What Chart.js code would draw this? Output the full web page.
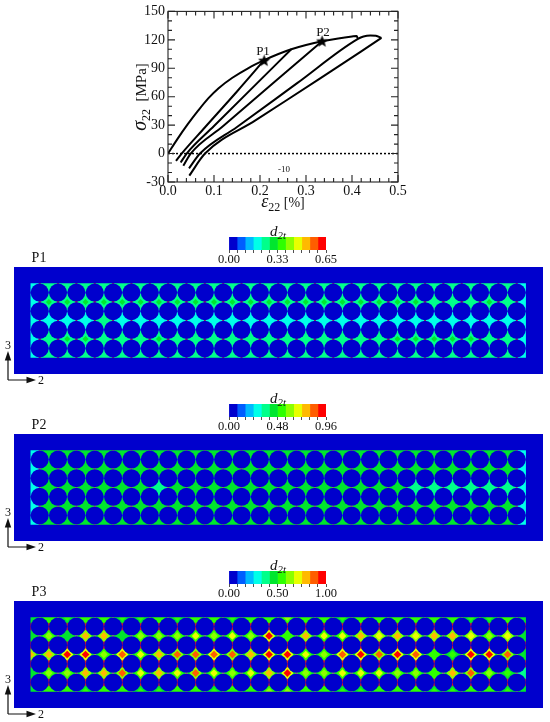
<!DOCTYPE html>
<html><head><meta charset="utf-8">
<script src="https://cdn.jsdelivr.net/npm/chart.js@4/dist/chart.umd.js"></script>
<style>
html,body{margin:0;padding:0;background:#fff;width:550px;height:722px;overflow:hidden}
body{position:relative;font-family:"Liberation Serif",serif;color:#111}
canvas{position:absolute}
.t{position:absolute;transform:translate(-50%,-50%);white-space:nowrap;line-height:1}
sub{font-size:.72em;vertical-align:-.3em;line-height:0}
svg{position:absolute;left:0;top:0}
</style></head><body>
<canvas id="curve" width="550" height="215" style="left:0;top:0"></canvas>
<canvas id="bar1" width="160" height="36" style="left:200px;top:230px"></canvas>
<canvas id="bar2" width="160" height="36" style="left:200px;top:397px"></canvas>
<canvas id="bar3" width="160" height="36" style="left:200px;top:564px"></canvas>
<canvas id="map1" width="529" height="107" style="left:14px;top:267px"></canvas>
<canvas id="map2" width="529" height="107" style="left:14px;top:434px"></canvas>
<canvas id="map3" width="529" height="107" style="left:14px;top:601px"></canvas>
<svg width="550" height="722" id="triads"></svg>
<div class="t" style="left:139px;top:97px;font-size:15px;transform:translate(-50%,-50%) rotate(-90deg)"><i style="font-size:20px">σ</i><sub style="font-size:12px">22</sub>&nbsp; [MPa]</div>
<div class="t" style="left:283px;top:201px;font-size:14px"><i style="font-size:18px">ε</i><sub style="font-size:12px">22</sub> [%]</div>
<div class="t" style="left:263px;top:50px;font-size:13px">P1</div>
<div class="t" style="left:323px;top:31px;font-size:13px">P2</div>
<div class="t" style="left:284px;top:169px;font-size:9px">-10</div>
<div class="t" style="left:39px;top:258px;font-size:14px">P1</div>
<div class="t" style="left:39px;top:425px;font-size:14px">P2</div>
<div class="t" style="left:39px;top:592px;font-size:14px">P3</div>
<div class="t" style="left:278px;top:231px;font-size:15px"><i>d</i><sub><i>2t</i></sub></div>
<div class="t" style="left:278px;top:398px;font-size:15px"><i>d</i><sub><i>2t</i></sub></div>
<div class="t" style="left:278px;top:565px;font-size:15px"><i>d</i><sub><i>2t</i></sub></div>
<div class="t" style="left:8px;top:345px;font-size:12px">3</div>
<div class="t" style="left:41px;top:380px;font-size:12px">2</div>
<div class="t" style="left:8px;top:512px;font-size:12px">3</div>
<div class="t" style="left:41px;top:547px;font-size:12px">2</div>
<div class="t" style="left:8px;top:679px;font-size:12px">3</div>
<div class="t" style="left:41px;top:714px;font-size:12px">2</div>
<script>
// ---------- stress-strain curves [strain %, stress MPa]
const envelope = [[0,0],[.02,15],[.043,31],[.065,45],[.087,58],[.11,69],[.14,80],[.174,90],[.209,98.5],[.24,105],[.268,110],[.30,114.5],[.335,118.5],[.37,121.5],[.40,123.5],[.41,124],[.413,121]];
const loop1 = [[.0174,-7.7],[.0297,0],[.08,27.5],[.15,65.5],[.209,98.5]];
const loop2 = [[.0276,-9.4],[.0406,0],[.10,29],[.19,72.5],[.268,110]];
const loop3 = [[.0333,-12.9],[.0493,0],[.12,29],[.23,75],[.335,118.5]];
const loop4 = [[.0457,-15.6],[.0696,0],[.15,28],[.28,74],[.413,121],[.425,123.5],[.44,124.5],[.452,124.2],[.464,122]];
const loop5 = [[.0463,-23.3],[.0804,0],[.19,35],[.33,79],[.464,122]];
const zeroLine = [[0,0],[.5,0]];
const starPoints = [[.209,98],[.335,118.5]];
const xRange = [0,.5], yRange = [-30,150];
const xMajorTicks = [0,.1,.2,.3,.4,.5];
const xMinorTicks = [.02,.04,.06,.08,.12,.14,.16,.18,.22,.24,.26,.28,.32,.34,.36,.38,.42,.44,.46,.48];
const yMajorTicks = [-30,0,30,60,90,120,150];
const yMinorTicks = [-20,-10,10,20,40,50,70,80,100,110,130,140];

// ---------- colour scale
const levelColors = ['#0000cd','#005dff','#00b9ff','#00ffe8','#00ff8b','#00e62e','#2eff00','#8bff00','#e8ff00','#ffb900','#ff5d00','#ff0000'];
const barMax = [.65,.96,1.0];
const barLabels = [['0.00','0.33','0.65'],['0.00','0.48','0.96'],['0.00','0.50','1.00']];

// ---------- damage read at the junctions between fibres (top row first; 28 per row)
const p1Rows = [
 [.20,.25,.25,.25,.25,.25,.25,.25,.25,.25,.25,.25,.25,.25,.25,.25,.25,.25,.25,.25,.25,.25,.25,.25,.25,.25,.25,.20],
 [.18,.29,.29,.29,.29,.29,.29,.29,.29,.29,.29,.29,.29,.29,.29,.29,.29,.29,.29,.28,.28,.28,.25,.25,.25,.28,.25,.18],
 [.18,.21,.21,.21,.24,.21,.21,.21,.21,.21,.21,.21,.21,.21,.21,.21,.21,.21,.21,.21,.21,.21,.21,.21,.21,.21,.21,.18],
 [.18,.26,.29,.29,.26,.26,.26,.29,.26,.26,.26,.26,.26,.26,.26,.26,.26,.26,.26,.26,.28,.28,.28,.28,.28,.26,.26,.18],
 [.20,.25,.25,.25,.25,.25,.25,.25,.25,.25,.25,.25,.25,.25,.25,.25,.25,.25,.25,.25,.25,.25,.25,.25,.25,.25,.25,.20]
];
const p2Rows = [
 [.30,.42,.42,.42,.42,.42,.42,.42,.42,.42,.42,.42,.42,.42,.42,.42,.42,.42,.42,.42,.42,.42,.42,.42,.42,.42,.42,.30],
 [.28,.44,.44,.44,.44,.44,.44,.44,.44,.44,.44,.44,.44,.44,.44,.44,.44,.44,.44,.44,.44,.44,.44,.44,.44,.44,.44,.28],
 [.28,.44,.44,.44,.44,.44,.44,.38,.44,.44,.44,.44,.44,.44,.44,.44,.44,.44,.44,.44,.44,.38,.38,.38,.38,.38,.38,.28],
 [.28,.44,.44,.44,.44,.44,.44,.44,.44,.44,.44,.44,.44,.44,.44,.44,.44,.44,.44,.44,.44,.44,.44,.44,.44,.44,.44,.28],
 [.30,.42,.42,.42,.42,.42,.42,.42,.42,.42,.42,.42,.42,.42,.42,.42,.42,.42,.42,.42,.42,.42,.42,.42,.42,.42,.42,.30]
];
const p3Rows = [
 [.42,.55,.5,.55,.55,.5,.5,.55,.5,.55,.55,.5,.55,.55,.6,.55,.55,.5,.55,.55,.55,.55,.55,.55,.5,.5,.55,.42],
 [.42,.62,.45,.82,.76,.45,.62,.62,.62,.7,.65,.7,.65,1.0,.55,.75,.7,.7,.78,.72,.75,.72,.82,.8,.72,.65,.72,.42],
 [.8,.78,.95,.95,.6,.9,.7,.8,.85,.85,.9,.88,.8,.98,.98,.7,.65,.9,.95,.88,.92,.9,.55,.5,.92,.92,.85,.45],
 [.45,.65,.65,.75,.8,.85,.7,.75,.7,.85,.7,.65,.7,.8,1.0,.65,.65,.7,.7,.68,.6,.65,.55,.8,.85,.65,.5,.4],
 [.42,.55,.55,.5,.55,.55,.5,.5,.55,.55,.5,.55,.55,.6,.6,.55,.55,.5,.5,.55,.55,.55,.5,.5,.55,.55,.5,.42]
];
const rimValues = [.24,.42,.45];
const fibreCols = 27, fibreRows = 4;

// ---------- styles
const SERIF = '"Liberation Serif", serif';
const gapStyles = [
 {h:'#d0103a', v:'#1a6fe0', base:'#1a6fe0', vOver:false, core:3, mid:5.2},
 {h:'#c88a40', v:'#1a78d8', base:'#1a78d8', vOver:false, core:3, mid:5.2},
 {h:'#d0c040', v:'#d01030', base:'#20a0a0', vOver:true, core:3.8, mid:6.2}
];
const matrixBlue = levelColors[0];
Chart.defaults.animation = false;
Chart.defaults.responsive = false;
Chart.defaults.font.family = SERIF;

// ---------- top chart
function pts(a){return a.map(p=>({x:p[0],y:p[1]}));}
const star = document.createElement('canvas'); star.width=13; star.height=13;
(function(){const c=star.getContext('2d');c.fillStyle='#000';c.beginPath();
 for(let i=0;i<10;i++){const r=i%2?2.7:6.4,a=-Math.PI/2+i*Math.PI/5;
  c[i?'lineTo':'moveTo'](6.5+r*Math.cos(a),6.8+r*Math.sin(a));}
 c.closePath();c.fill();})();
const curveLine = d=>({data:pts(d),showLine:true,borderColor:'#000',borderWidth:2,pointRadius:0,cubicInterpolationMode:'monotone',fill:false});
const framePlugin = {id:'frame',afterDraw(ch){
 const c=ch.ctx,a=ch.chartArea,X=ch.scales.x,Y=ch.scales.y;
 c.save();c.strokeStyle='#222';c.lineWidth=1.1;c.strokeRect(a.left,a.top,a.width,a.height);
 const tx=(v,l)=>{const p=X.getPixelForValue(v);c.beginPath();c.moveTo(p,a.bottom);c.lineTo(p,a.bottom-l);c.moveTo(p,a.top);c.lineTo(p,a.top+l);c.stroke();};
 const ty=(v,l)=>{const p=Y.getPixelForValue(v);c.beginPath();c.moveTo(a.left,p);c.lineTo(a.left+l,p);c.moveTo(a.right,p);c.lineTo(a.right-l,p);c.stroke();};
 xMajorTicks.forEach(v=>tx(v,7));xMinorTicks.forEach(v=>tx(v,4));
 yMajorTicks.forEach(v=>ty(v,7));yMinorTicks.forEach(v=>ty(v,4));
 c.restore();}};
new Chart(document.getElementById('curve'),{type:'scatter',
 data:{datasets:[
  {data:pts(starPoints),pointStyle:star,pointRadius:6,showLine:false},
  curveLine(envelope),curveLine(loop1),curveLine(loop2),curveLine(loop3),curveLine(loop4),curveLine(loop5),
  {data:pts(zeroLine),showLine:true,borderColor:'#000',borderWidth:1.5,borderDash:[2,2],pointRadius:0}
 ]},
 options:{layout:{autoPadding:false,padding:{left:128,right:152,top:9,bottom:3}},
  plugins:{legend:{display:false},tooltip:{enabled:false}},
  scales:{
   x:{type:'linear',min:xRange[0],max:xRange[1],grid:{display:false,drawTicks:false},border:{display:false},
      afterFit:s=>{s.height=30;},afterBuildTicks:s=>{s.ticks=xMajorTicks.map(v=>({value:v}));},
      ticks:{color:'#111',font:{size:14},padding:1,maxRotation:0,callback:v=>v.toFixed(1)}},
   y:{type:'linear',min:yRange[0],max:yRange[1],grid:{display:false,drawTicks:false},border:{display:false},
      afterFit:s=>{s.width=40;},afterBuildTicks:s=>{s.ticks=yMajorTicks.map(v=>({value:v}));},
      ticks:{color:'#111',font:{size:14},padding:3,callback:v=>String(v)}}
  }},plugins:[framePlugin]});

// ---------- colour bars
function colourBar(id,k){
 const max=barMax[k],n=levelColors.length,step=max/n;
 const labels=barLabels[k];
 new Chart(document.getElementById(id),{type:'bar',
  data:{labels:['d'],datasets:levelColors.map((col,i)=>({data:[[i*step,(i+1)*step]],backgroundColor:col,barPercentage:1,categoryPercentage:1,grouped:false,borderWidth:0}))},
  options:{indexAxis:'y',layout:{padding:{left:29,right:34,top:7,bottom:0}},
   plugins:{legend:{display:false},tooltip:{enabled:false}},
   scales:{
    y:{display:false},
    x:{type:'linear',min:0,max:max,border:{display:false},
       grid:{drawOnChartArea:false,drawTicks:true,tickLength:3,color:'#222',lineWidth:.8},
       afterFit:s=>{s.height=16;},
       afterBuildTicks:s=>{const t=[];for(let i=0;i<=n;i++)t.push({value:i*step});s.ticks=t;},
       ticks:{autoSkip:false,maxRotation:0,color:'#111',font:{size:12.5},padding:-1,
        callback:(v,i)=>i===0?labels[0]:i===6?labels[1]:i===12?labels[2]:''}}
   }}});
}
colourBar('bar1',0);colourBar('bar2',1);colourBar('bar3',2);

// ---------- damage maps
function colorOf(v,max){return levelColors[Math.min(11,Math.floor(v/max*12))];}
function damageMap(id,k,rows){
 const max=barMax[k],rim=rimValues[k],gs=gapStyles[k];
 const fibres=[],nodes=[],hLines=[],vLines=[];
 for(let r=0;r<fibreRows;r++)for(let c=0;c<fibreCols;c++)fibres.push({x:c+.5,y:r+.5});
 rows.forEach((row,i)=>row.forEach((v,c)=>nodes.push({x:c,y:fibreRows-i,v})));
 for(let r=0;r<=fibreRows;r++){hLines.push({x:0,y:r},{x:fibreCols,y:r},{x:NaN,y:NaN});}
 for(let c=0;c<=fibreCols;c++){vLines.push({x:c,y:0},{x:c,y:fibreRows},{x:NaN,y:NaN});}
 const xMin=-.9,xMax=27.93,yMin=-.876,yMax=4.876;
 const ring=[{x:xMin,y:yMin},{x:xMax,y:yMin},{x:xMax,y:yMax},{x:xMin,y:yMax},{x:xMin,y:yMin},
             {x:0,y:0},{x:0,y:4},{x:27,y:4},{x:27,y:0},{x:0,y:0},{x:xMin,y:yMin}];
 const base=[{x:0,y:0},{x:27,y:0},{x:27,y:4},{x:0,y:4}];
 const line=(data,col,w)=>({data,showLine:true,borderColor:col,borderWidth:w,pointRadius:0,spanGaps:false,fill:false});
 const diamond=(radius,colFn)=>({data:nodes,showLine:false,pointStyle:'rectRot',pointRadius:radius,borderWidth:0,
   pointBorderWidth:0,pointBackgroundColor:ctx=>colFn(ctx.raw?ctx.raw.v:0)});
 const rimOf=v=>Math.min(rim,v);
 const layers=[
  {data:ring,showLine:true,borderWidth:0,pointRadius:0,fill:'shape',backgroundColor:matrixBlue},
  {data:fibres,showLine:false,pointStyle:'circle',pointRadius:9,pointBackgroundColor:matrixBlue,pointBorderWidth:0},
  diamond(gs.core,v=>colorOf(v,max)),
  diamond(gs.mid,v=>colorOf((v+rimOf(v))/2,max))
 ];
 if(gs.vOver) layers.push(line(vLines,gs.v,2.2));
 layers.push(diamond(8.5,v=>colorOf(rimOf(v),max)));
 if(!gs.vOver) layers.push(line(vLines,gs.v,1.2));
 layers.push(line(hLines,gs.h,1.8));
 layers.push({data:base,showLine:true,borderWidth:0,pointRadius:0,fill:'shape',backgroundColor:gs.base});
 new Chart(document.getElementById(id),{type:'scatter',data:{datasets:layers},
  options:{layout:{autoPadding:false,padding:0},plugins:{legend:{display:false},tooltip:{enabled:false}},
   scales:{x:{type:'linear',display:false,min:xMin,max:xMax},y:{type:'linear',display:false,min:yMin,max:yMax}}}});
}
damageMap('map1',0,p1Rows);damageMap('map2',1,p2Rows);damageMap('map3',2,p3Rows);

// ---------- orientation triads
(function(){
 const svg=document.getElementById('triads');let s='';
 [380,547,714].forEach(o=>{
  s+=`<path d="M8 ${o}V${o-25}M8 ${o}H30" stroke="#111" stroke-width="1.2" fill="none"/>`;
  s+=`<path d="M8 ${o-29}l-3.2 9.5h6.4zM36 ${o}l-9.5 -3.2v6.4z" fill="#111"/>`;
 });
 svg.innerHTML=s;
})();
</script>
</body></html>
